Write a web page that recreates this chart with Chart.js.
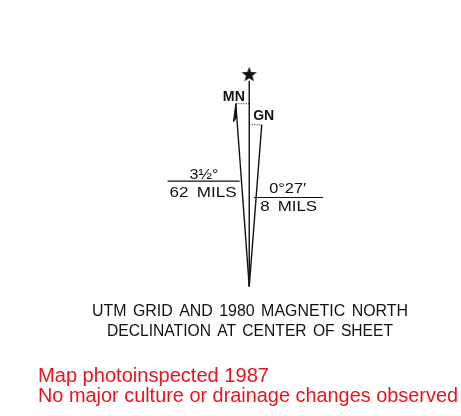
<!DOCTYPE html>
<html>
<head>
<meta charset="utf-8">
<script src="https://cdn.jsdelivr.net/npm/chart.js@4/dist/chart.umd.min.js"></script>
<style>
  html, body { margin: 0; padding: 0; background: #fff; }
  #diagrama { display: block; }
</style>
</head>
<body>
<canvas id="diagrama" width="461" height="416"></canvas>
<script>
// valores de declinacao (como impressos)
const declinacaoMN = '3½°';
const milsMN = '62 MILS';
const declinacaoGN = '0°27′';
const milsGN = '8 MILS';

// linhas do diagrama, origem no vertice (unidades do grafico, nao em escala)
const linhaTN = [{ x: 0, y: 0 }, { x: 0, y: 215 }];
const linhaMN = [{ x: 0, y: 0 }, { x: -14, y: 191 }];
const linhaGN = [{ x: 0, y: 0 }, { x: 13, y: 169 }];
const pontilhadoMN = [{ x: -14, y: 191 }, { x: 0, y: 191 }];
const pontilhadoGN = [{ x: 0, y: 169 }, { x: 13, y: 169 }, { x: 13, y: 164 }];
const farpaMN = [{ x: -14, y: 191 }, { x: -16.5, y: 172 }, { x: -13, y: 177 }, { x: -14, y: 191 }];
const reguaMN = [{ x: -85, y: 110 }, { x: -10, y: 110 }];
const reguaGN = [{ x: 5, y: 93 }, { x: 77, y: 93 }];
const estrela = [{ x: 0, y: 222 }];

const rotulos = [
    { texto: 'MN', x: -16, y: 198, fonte: '600 14px "Liberation Sans"', largura: 22 },
    { texto: 'GN', x: 15, y: 178, fonte: '600 14px "Liberation Sans"', largura: 21 },
    { texto: declinacaoMN, x: -47, y: 117, fonte: '14.5px "Liberation Sans"', largura: 29 },
    { texto: milsMN, x: -48, y: 98, fonte: '14.5px "Liberation Sans"', largura: 67 },
    { texto: declinacaoGN, x: 40, y: 102, fonte: '14.5px "Liberation Sans"', largura: 37 },
    { texto: milsGN, x: 41, y: 83, fonte: '14.5px "Liberation Sans"', largura: 57 }
];

const legendaPreta = ['UTM GRID AND 1980 MAGNETIC NORTH', 'DECLINATION AT CENTER OF SHEET'];
const notaVermelha = ['Map photoinspected 1987', 'No major culture or drainage changes observed'];

function criarEstrela(r) {
    const c = document.createElement('canvas');
    c.width = c.height = r * 2 + 2;
    const g = c.getContext('2d');
    g.fillStyle = '#111';
    g.beginPath();
    for (let i = 0; i < 10; i++) {
        const raio = i % 2 === 0 ? r : r * 0.42;
        const a = -Math.PI / 2 + i * Math.PI / 5;
        const px = r + 1 + raio * Math.cos(a);
        const py = r + 1 + raio * Math.sin(a) + 0.8;
        if (i === 0) g.moveTo(px, py); else g.lineTo(px, py);
    }
    g.closePath();
    g.fill();
    return c;
}

function linha(dados, extra) {
    return Object.assign({
        data: dados,
        showLine: true,
        borderColor: '#111',
        borderWidth: 1.4,
        pointRadius: 0,
        tension: 0,
        fill: false
    }, extra || {});
}

// texto esticado na horizontal ate a largura alvo (centrado em cx)
function textoEscalado(ctx, texto, cx, y, largura, alinhamento) {
    const w = ctx.measureText(texto).width;
    const x0 = alinhamento === 'left' ? cx : cx - largura / 2;
    ctx.save();
    ctx.translate(x0, y);
    ctx.scale(largura / w, 1);
    ctx.textAlign = 'left';
    ctx.fillText(texto, 0, 0);
    ctx.restore();
}

const pluginTextos = {
    id: 'textos',
    afterDatasetsDraw(chart) {
        const ctx = chart.ctx;
        const sx = chart.scales.x, sy = chart.scales.y;
        ctx.save();
        ctx.fillStyle = '#111';
        ctx.textBaseline = 'middle';
        rotulos.forEach(r => {
            ctx.font = r.fonte;
            ctx.wordSpacing = '3px';
            const px = sx.getPixelForValue(r.x), py = sy.getPixelForValue(r.y);
            textoEscalado(ctx, r.texto, px, py, r.largura);
        });

        ctx.font = '16px "Liberation Sans"';
        ctx.wordSpacing = '2px';
        ctx.textBaseline = 'alphabetic';
        textoEscalado(ctx, legendaPreta[0], 250, 315.5, 316);
        textoEscalado(ctx, legendaPreta[1], 250, 335.5, 286);
        ctx.wordSpacing = '0px';

        ctx.fillStyle = '#e8141c';
        ctx.font = '20.5px "Liberation Sans"';
        textoEscalado(ctx, notaVermelha[0], 38, 382, 231, 'left');
        textoEscalado(ctx, notaVermelha[1], 38, 402, 420, 'left');
        ctx.restore();
    }
};

const ctx = document.getElementById('diagrama');

new Chart(ctx, {
    type: 'scatter',
    data: {
        datasets: [
            linha(linhaTN),
            linha(linhaMN),
            linha(linhaGN),
            linha(pontilhadoMN, { borderWidth: 1, borderDash: [1, 1.5] }),
            linha(pontilhadoGN, { borderWidth: 1, borderDash: [1, 1.5] }),
            linha(farpaMN, { borderWidth: 1, fill: 'shape', backgroundColor: '#111' }),
            linha(reguaMN, { borderWidth: 1.2 }),
            linha(reguaGN, { borderWidth: 1.2 }),
            {
                data: estrela,
                showLine: false,
                pointStyle: criarEstrela(8),
                pointRadius: 8
            }
        ]
    },
    options: {
        responsive: false,
        animation: false,
        devicePixelRatio: 1,
        layout: { padding: 0 },
        plugins: {
            legend: { display: false },
            tooltip: { enabled: false }
        },
        scales: {
            x: { type: 'linear', display: false, min: -250, max: 211 },
            y: { type: 'linear', display: false, min: -126, max: 290 }
        }
    },
    plugins: [pluginTextos]
});
</script>
</body>
</html>
